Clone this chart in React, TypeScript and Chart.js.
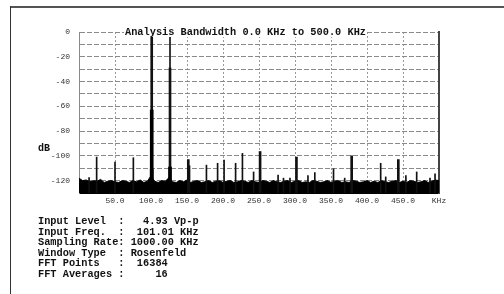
import React, { useEffect, useRef } from "react";
import { Chart, registerables } from "chart.js";
Chart.register(...registerables);

// ---- data ----
const titleText = "Analysis Bandwidth 0.0 KHz to 500.0 KHz";
const yAxisLabel = "dB";
const xMin = 0;
const xMax = 500;
const yMin = -130;
const yMax = 0;

// noise floor (top of the dense FFT floor), kHz / dB
const noiseFreq = [
  0, 5, 10, 15, 20, 25, 30, 35, 40, 45, 50, 55, 60, 65, 70, 75, 80, 85, 90, 95,
  100, 105, 110, 115, 120, 125, 130, 135, 140, 145, 150, 155, 160, 165, 170, 175, 180, 185, 190, 195,
  200, 205, 210, 215, 220, 225, 230, 235, 240, 245, 250, 255, 260, 265, 270, 275, 280, 285, 290, 295,
  300, 305, 310, 315, 320, 325, 330, 335, 340, 345, 350, 355, 360, 365, 370, 375, 380, 385, 390, 395,
  400, 405, 410, 415, 420, 425, 430, 435, 440, 445, 450, 455, 460, 465, 470, 475, 480, 485, 490, 495, 500,
];
const noiseDb = [
  -118, -120, -119.5, -121, -120, -120.5, -119, -121.5, -120.5, -120,
  -121, -121.5, -120, -120.5, -121.5, -120, -121, -119.5, -121.5, -120.5,
  -116, -120.5, -121.5, -120, -120.5, -117.5, -121, -121.5, -120, -121,
  -119.5, -121.5, -120.5, -120, -121.5, -121, -120, -121.5, -120.5, -120,
  -121.5, -120.5, -120, -121.5, -121, -120, -120.5, -121.5, -120, -121,
  -121.5, -120, -120.5, -121.5, -120, -121, -121.5, -120.5, -120, -121.5,
  -120.5, -120, -121.5, -121, -121.5, -120, -120.5, -121.5, -121, -120,
  -121.5, -120.5, -120, -121.5, -121, -121.5, -120, -120.5, -121.5, -121,
  -120, -121.5, -120.5, -121.5, -120, -121, -121.5, -120.5, -120, -121.5,
  -120.5, -121.5, -120, -120.5, -121.5, -121, -120, -121.5, -120.5, -119.5, -120,
];

// thin spurs (kHz / dB)
const spurFreq = [14, 24.5, 50, 75.5, 126.4, 153.5, 177, 192.5, 201.5, 217.5, 227, 242.5, 276.5, 284, 293, 318, 327.5, 353.5, 369, 419, 426, 454, 469, 487.5, 494.5];
const spurDb = [-117.5, -101, -105, -101.5, -4, -108, -107.5, -106, -103.5, -106, -98, -113, -115.5, -118, -118, -116, -113.5, -110.5, -118, -106, -117, -116, -113, -118, -114.5];

// heavier lines (kHz / dB)
const heavyFreq = [101, 126.4, 151.8, 251.5, 302, 378.7, 443.5];
const heavyDb = [-4, -29, -103, -96.5, -101, -100, -103];

// widened skirts at the base of the tones (kHz / dB)
const skirtFreq = [101, 101, 126.4];
const skirtDb = [-63, -111, -109];

const infoLines = [
  "Input Level  :   4.93 Vp-p",
  "Input Freq.  :  101.01 KHz",
  "Sampling Rate: 1000.00 KHz",
  "Window Type  : Rosenfeld",
  "FFT Points   :  16384",
  "FFT Averages :     16",
];

const mono = "'Liberation Mono', 'DejaVu Sans Mono', monospace";

export default function App() {
  const ref = useRef<HTMLCanvasElement | null>(null);

  useEffect(() => {
    if (!ref.current) return;
    const floor = (f: number[], d: number[]) => f.map((x, i) => ({ x, y: [yMin, d[i]] }));
    const chart = new Chart(ref.current, {
      type: "bar",
      data: {
        datasets: [
          {
            type: "line",
            label: "Noise floor",
            data: noiseFreq.map((x, i) => ({ x, y: noiseDb[i] })),
            borderColor: "#000",
            backgroundColor: "#000",
            borderWidth: 1,
            pointRadius: 0,
            fill: "start",
            tension: 0,
            order: 5,
          } as any,
          {
            label: "Spurs",
            data: floor(spurFreq, spurDb) as any,
            backgroundColor: "#111",
            barThickness: 1,
            grouped: false,
            order: 3,
          } as any,
          {
            label: "Tones",
            data: floor(heavyFreq, heavyDb) as any,
            backgroundColor: "#111",
            barThickness: 2,
            grouped: false,
            order: 2,
          } as any,
          {
            label: "Skirts",
            data: floor(skirtFreq, skirtDb) as any,
            backgroundColor: "#000",
            barThickness: 3,
            grouped: false,
            order: 1,
          } as any,
        ],
      },
      options: {
        responsive: false,
        animation: false,
        layout: { padding: { left: 0, right: 65, top: 32, bottom: 0 } },
        plugins: {
          legend: { display: false },
          title: { display: false },
          tooltip: { enabled: false },
        },
        scales: {
          x: {
            type: "linear",
            min: xMin,
            max: xMax,
            offset: false,
            afterFit: (s: any) => {
              s.height = 101;
            },
            grid: { color: "#999", drawTicks: false, offset: false },
            border: { color: "#000", dash: [2, 2] },
            ticks: {
              stepSize: 50,
              maxTicksLimit: 20,
              autoSkip: false,
              maxRotation: 0,
              padding: 3,
              color: "#333",
              font: { family: mono, size: 8 },
              callback: (v: any) => (v === 0 ? "" : v === 500 ? "KHz" : Number(v).toFixed(1)),
            },
          },
          y: {
            type: "linear",
            min: yMin,
            max: yMax,
            afterFit: (s: any) => {
              s.width = 79;
            },
            grid: { color: "#8a8a8a", drawTicks: false },
            border: { color: "#8a8a8a", dash: [5, 2] },
            ticks: {
              stepSize: 10,
              maxTicksLimit: 20,
              autoSkip: false,
              padding: 9,
              color: "#333",
              font: { family: mono, size: 8 },
              callback: (v: any) => (Math.round(Number(v)) % 20 === 0 ? String(v) : ""),
            },
          },
          y2: {
            type: "linear",
            position: "right",
            min: yMin,
            max: yMax,
            afterFit: (s: any) => {
              s.width = 0;
            },
            grid: { display: false, drawTicks: false },
            border: { color: "#444", width: 2 },
            ticks: { display: false },
          },
        },
      } as any,
    });
    return () => chart.destroy();
  }, []);

  return (
    <div
      style={{
        position: "fixed",
        left: 0,
        top: 0,
        width: 504,
        height: 294,
        background: "#fff",
        overflow: "hidden",
      }}
    >
      <canvas ref={ref} width={504} height={294} style={{ position: "absolute", left: 0, top: 0 }} />
      <div style={{ position: "absolute", left: 10, top: 6, width: 494, height: 2, background: "#555" }} />
      <div style={{ position: "absolute", left: 10, top: 6, width: 1, height: 288, background: "#333" }} />
      <span
        style={{
          position: "absolute",
          left: 124,
          top: 27,
          height: 10,
          lineHeight: "10px",
          padding: "0 1px",
          background: "#fff",
          fontFamily: mono,
          fontWeight: "bold",
          fontSize: 10.3,
          color: "#111",
          whiteSpace: "pre",
        }}
      >
        {titleText}
      </span>
      <span
        style={{
          position: "absolute",
          left: 38,
          top: 143,
          lineHeight: "12px",
          fontFamily: mono,
          fontWeight: "bold",
          fontSize: 10,
          color: "#111",
        }}
      >
        {yAxisLabel}
      </span>
      <pre
        style={{
          position: "absolute",
          left: 38,
          top: 216,
          margin: 0,
          fontFamily: mono,
          fontWeight: "bold",
          fontSize: 10.3,
          lineHeight: "10.6px",
          color: "#111",
        }}
      >
        {infoLines.join("\n")}
      </pre>
    </div>
  );
}
